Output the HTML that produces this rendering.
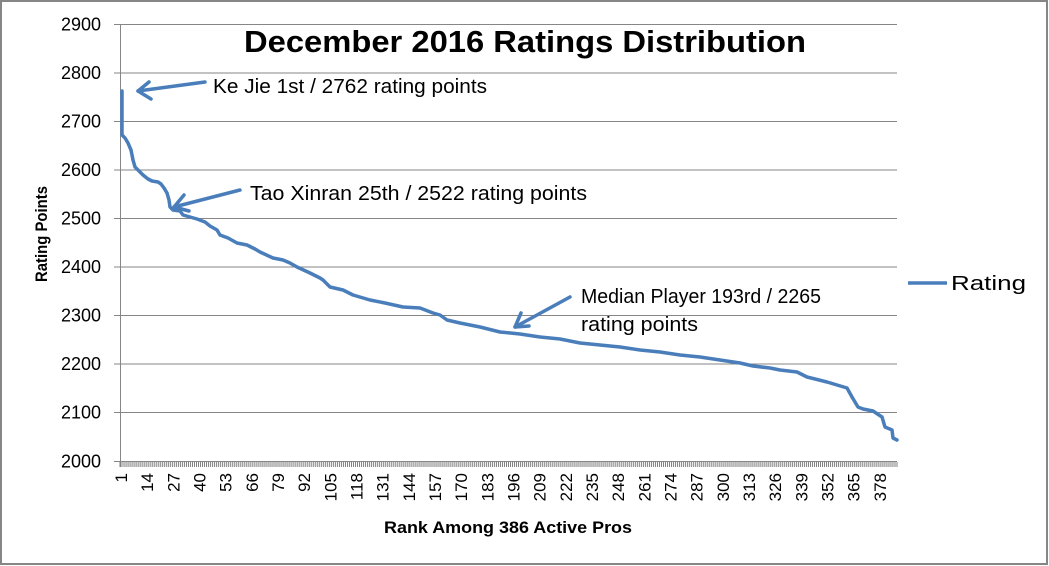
<!DOCTYPE html>
<html><head><meta charset="utf-8"><style>
html,body{margin:0;padding:0;background:#fff;}
svg{display:block;}
text{font-family:"Liberation Sans",sans-serif;fill:#000;}
</style></head><body>
<svg width="1049" height="566" viewBox="0 0 1049 566" xmlns="http://www.w3.org/2000/svg">
<rect x="0" y="0" width="1049" height="566" fill="#fff"/>
<rect x="1" y="1" width="1046" height="563" fill="none" stroke="#868686" stroke-width="2"/>
<!-- gridlines -->
<g stroke="#868686" stroke-width="1">
<line x1="114" y1="24.5" x2="897" y2="24.5"/>
<line x1="114" y1="73" x2="897" y2="73"/>
<line x1="114" y1="121.5" x2="897" y2="121.5"/>
<line x1="114" y1="170" x2="897" y2="170"/>
<line x1="114" y1="218.5" x2="897" y2="218.5"/>
<line x1="114" y1="267" x2="897" y2="267"/>
<line x1="114" y1="315.5" x2="897" y2="315.5"/>
<line x1="114" y1="364" x2="897" y2="364"/>
<line x1="114" y1="412.5" x2="897" y2="412.5"/>
<line x1="114" y1="461.5" x2="897" y2="461.5"/>
<line x1="120.5" y1="24" x2="120.5" y2="467"/>
</g>
<!-- category ticks -->
<g id="ticks" stroke="#7f7f7f" stroke-width="1"></g>
<!-- y labels -->
<g font-size="18" text-anchor="end">
<text x="101" y="30.5">2900</text>
<text x="101" y="79">2800</text>
<text x="101" y="127.5">2700</text>
<text x="101" y="176">2600</text>
<text x="101" y="224.5">2500</text>
<text x="101" y="273">2400</text>
<text x="101" y="321.5">2300</text>
<text x="101" y="370">2200</text>
<text x="101" y="418.5">2100</text>
<text x="101" y="467.5">2000</text>
</g>
<!-- x labels -->
<g id="xl" font-size="17" text-anchor="end"></g>
<!-- title -->
<text x="244" y="52" font-size="31" font-weight="bold" textLength="562" lengthAdjust="spacingAndGlyphs">December 2016 Ratings Distribution</text>
<!-- axis titles -->
<text transform="translate(47,234) rotate(-90)" font-size="17" font-weight="bold" text-anchor="middle" textLength="96" lengthAdjust="spacingAndGlyphs">Rating Points</text>
<text x="384" y="533" font-size="17" font-weight="bold" textLength="248" lengthAdjust="spacingAndGlyphs">Rank Among 386 Active Pros</text>
<!-- series -->
<polyline fill="none" stroke="#4a7ebb" stroke-width="3.5" stroke-linejoin="round" stroke-linecap="round" points="122,91 122,135 125,138 128,143 131,150 133,160 135,167 140,172 143,175 148,179 152,181 158,182 161,184 164,188 167,193 169,200 170,207 173,210 180,211 183,215 190,217 197,219 205,222 210,226 217,230 220,235 228,238 237,243 247,245 255,249 260,252 273,258 283,260 290,263 297,267 310,273 320,278 323,280 330,287 343,290 353,295 370,300 385,303 403,307 420,308 433,313 440,315 447,320 460,323 480,327 500,332 520,334 540,337 560,339 580,343 600,345 620,347 640,350 660,352 680,355 700,357 720,360 740,363 753,366 770,368 780,370 797,372 807,377 827,382 847,388 852,397 858,407 863,409 873,411 882,417 885,427 892,430 893,438 897,440"/>
<!-- annotations -->
<g stroke="#4a7ebb" stroke-width="3.5" fill="none" stroke-linecap="round" stroke-linejoin="round">
<line x1="205" y1="82" x2="138" y2="91"/>
<polyline points="149,82 138,91 151,99"/>
<line x1="240" y1="190" x2="174" y2="207"/>
<polyline points="184,195 174,207 189,211"/>
<line x1="570" y1="297" x2="515" y2="327"/>
<polyline points="521,313 515,327 529,326"/>
</g>
<g font-size="20">
<text x="213" y="93" textLength="274" lengthAdjust="spacingAndGlyphs">Ke Jie 1st / 2762 rating points</text>
<text x="250" y="200" textLength="337" lengthAdjust="spacingAndGlyphs">Tao Xinran 25th / 2522 rating points</text>
<text x="581" y="303" textLength="240" lengthAdjust="spacingAndGlyphs">Median Player 193rd / 2265</text>
<text x="581" y="331" textLength="117" lengthAdjust="spacingAndGlyphs">rating points</text>
</g>
<!-- legend -->
<line x1="908" y1="283" x2="947" y2="283" stroke="#4a7ebb" stroke-width="3.5"/>
<text x="951" y="290" font-size="20" textLength="75" lengthAdjust="spacingAndGlyphs">Rating</text>
</svg>
<script>
(function(){
var ns="http://www.w3.org/2000/svg";
var t=document.getElementById("ticks");
var w=(897-120)/386;
for(var k=0;k<=386;k++){
 var x=120+k*w;
 var l=document.createElementNS(ns,"line");
 l.setAttribute("x1",x.toFixed(2));l.setAttribute("x2",x.toFixed(2));
 l.setAttribute("y1","462");l.setAttribute("y2","467");
 t.appendChild(l);
}
var g=document.getElementById("xl");
for(var r=1;r<=386;r+=13){
 var cx=120+(r-0.5)*w;
 var tx=document.createElementNS(ns,"text");
 tx.setAttribute("transform","translate("+(cx+6).toFixed(2)+",473) rotate(-90)");
 tx.textContent=String(r);
 g.appendChild(tx);
}
})();
</script>
</body></html>
